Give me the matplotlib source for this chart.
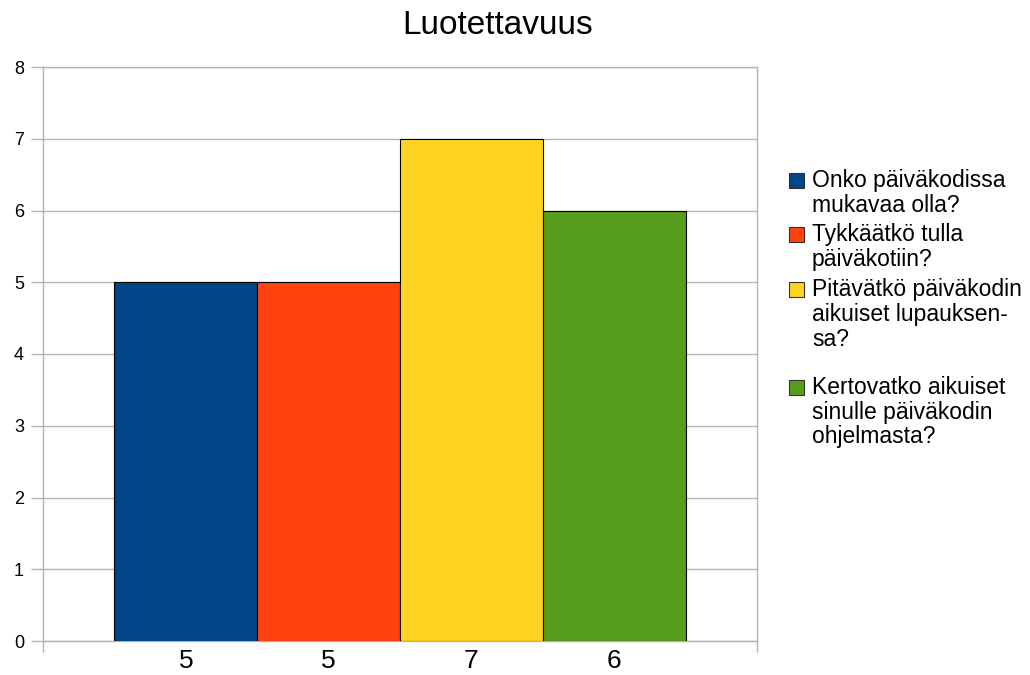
import matplotlib
matplotlib.use("Agg")
import matplotlib.pyplot as plt
from matplotlib.patches import Rectangle

plt.rcParams["font.family"] = ["Liberation Sans", "DejaVu Sans"]

# data
title = "Luotettavuus"
series_labels = [
    ["Onko päiväkodissa", "mukavaa olla?"],
    ["Tykkäätkö tulla", "päiväkotiin?"],
    ["Pitävätkö päiväkodin", "aikuiset lupauksen-", "sa?"],
    ["Kertovatko aikuiset", "sinulle päiväkodin", "ohjelmasta?"],
]
values = [5, 5, 7, 6]
tick_labels = ["5", "5", "7", "6"]
colors = ["#004586", "#ff420e", "#ffd320", "#579d1c"]

grid_col = "#b3b3b3"

fig = plt.figure(figsize=(10.3, 6.75), dpi=100)
W, H = 1030, 675
ax = fig.add_axes([43 / W, 1 - 641 / H, 714 / W, 574 / H])

xs = list(range(len(values)))
ax.bar(xs, values, width=1.0, color=colors, edgecolor="black", linewidth=0.8, zorder=3)

ax.set_xlim(-1, 4)
ax.set_ylim(0, 8)
ax.set_yticks(range(0, 9))
ax.yaxis.grid(True, color=grid_col, linewidth=1.0, zorder=0)
ax.tick_params(axis="y", length=8.6, width=1.0, color=grid_col, pad=5, labelsize=13)

ax.set_xticks(xs)
ax.set_xticklabels(tick_labels)
ax.tick_params(axis="x", which="major", length=0, pad=6, labelsize=19)
ax.set_xticks([-1, 4], minor=True)
ax.tick_params(axis="x", which="minor", length=8, width=1.0, color=grid_col)

for side in ["left", "right", "top", "bottom"]:
    ax.spines[side].set_color(grid_col)
    ax.spines[side].set_linewidth(1.0)

fig.text(498 / W, 1 - 26 / H, title, ha="center", va="center", fontsize=24)

# legend drawn by hand so each square sits on the first line of its label
first_line_y = [181, 235, 290, 388]
line_h = 24.5
for lines, col, y0 in zip(series_labels, colors, first_line_y):
    fig.patches.append(Rectangle((789 / W, 1 - (y0 + 7) / H), 15 / W, 15 / H,
                                 transform=fig.transFigure, facecolor=col,
                                 edgecolor="#333333", linewidth=0.8))
    for i, line in enumerate(lines):
        fig.text(812 / W, 1 - (y0 + i * line_h) / H, line, ha="left", va="center", fontsize=16.5)

fig.savefig("out.png", dpi=100)
